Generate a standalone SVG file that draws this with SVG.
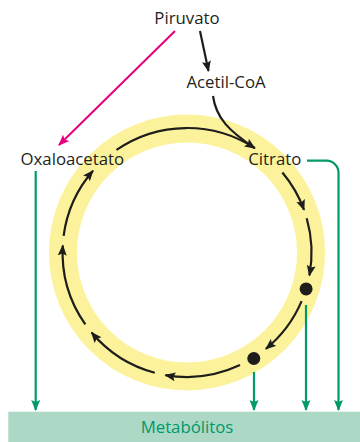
<svg xmlns="http://www.w3.org/2000/svg" width="360" height="442" viewBox="0 0 360 442">
<style>
.lbl{font-family:"Open Sans","Noto Sans","Liberation Sans",sans-serif;font-size:16.8px;fill:#231f20}
.blk{fill:none;stroke:#1d1d1b;stroke-width:2.2}
.grn{fill:none;stroke:#00996a;stroke-width:2.2}
.pnk{fill:none;stroke:#e6007e;stroke-width:2}
</style>
<defs>
<marker id="ab" markerUnits="userSpaceOnUse" markerWidth="12" markerHeight="10" refX="10" refY="4.5" orient="auto"><path d="M0,0 L11,4.5 L0,9 L2,4.5 z" fill="#1d1d1b"/></marker>
<marker id="ag" markerUnits="userSpaceOnUse" markerWidth="12" markerHeight="10" refX="10" refY="4.5" orient="auto"><path d="M0,0 L11,4.5 L0,9 L2,4.5 z" fill="#00996a"/></marker>
<marker id="ap" markerUnits="userSpaceOnUse" markerWidth="12" markerHeight="10" refX="10" refY="4.5" orient="auto"><path d="M0,0 L11,4.5 L0,9 L2,4.5 z" fill="#e6007e"/></marker>
</defs>
<g id="ring"><circle cx="187" cy="252.5" r="124" fill="none" stroke="#fdf29c" stroke-width="28"/></g>
<g id="metabolitos"><rect x="8.3" y="411.7" width="352" height="31" fill="#acd8c5"/><text class="lbl" x="187" y="433" text-anchor="middle" style="fill:#00996a">Metabólitos</text></g>
<g id="piruvato"><text class="lbl" x="187" y="24" text-anchor="middle">Piruvato</text></g>
<g id="acetilcoa"><text class="lbl" x="226" y="88" text-anchor="middle">Acetil-CoA</text></g>
<g id="oxaloacetato"><text class="lbl" x="20.5" y="165">Oxaloacetato</text></g>
<g id="citrato"><text class="lbl" x="248.3" y="165">Citrato</text></g>
<g id="dot1"><circle cx="306.1" cy="288.9" r="6.5" fill="#1d1d1b"/></g>
<g id="dot2"><circle cx="253.8" cy="358.5" r="6.5" fill="#1d1d1b"/></g>
<g id="connectors">
<path class="pnk" d="M175,31 L59,145" marker-end="url(#ap)"/>
<path class="blk" d="M200,31 L208.5,71" marker-end="url(#ab)"/>
<path class="blk" d="M213,96 C216,118 229,131 254.8,148.1"/>
<path class="blk" d="M116.5,149.9 A124.5,124.5 0 0 1 254.8,148.1" marker-end="url(#ab)"/>
<path class="blk" d="M282.4,172.5 A124.5,124.5 0 0 1 304,209.9" marker-end="url(#ab)"/>
<path class="blk" d="M306.7,218.2 A124.5,124.5 0 0 1 309.4,275.4" marker-end="url(#ab)"/>
<path class="blk" d="M301.6,301.1 A124.5,124.5 0 0 1 265.9,348.8" marker-end="url(#ab)"/>
<path class="blk" d="M240,365.1 A124.5,124.5 0 0 1 165.4,375.1" marker-end="url(#ab)"/>
<path class="blk" d="M154.8,372.8 A124.5,124.5 0 0 1 91.6,332.5" marker-end="url(#ab)"/>
<path class="blk" d="M85.3,324.3 A124.5,124.5 0 0 1 62.8,245.5" marker-end="url(#ab)"/>
<path class="blk" d="M63.6,235.8 A124.5,124.5 0 0 1 93,170.8" marker-end="url(#ab)"/>
<path class="grn" d="M35.7,171 V410" marker-end="url(#ag)"/>
<path class="grn" d="M254,372 V410" marker-end="url(#ag)"/>
<path class="grn" d="M306,305 V410" marker-end="url(#ag)"/>
<path class="grn" d="M307,160.7 H326.5 A12,12 0 0 1 338.5,172.7 V410" marker-end="url(#ag)"/>
</g>
</svg>
